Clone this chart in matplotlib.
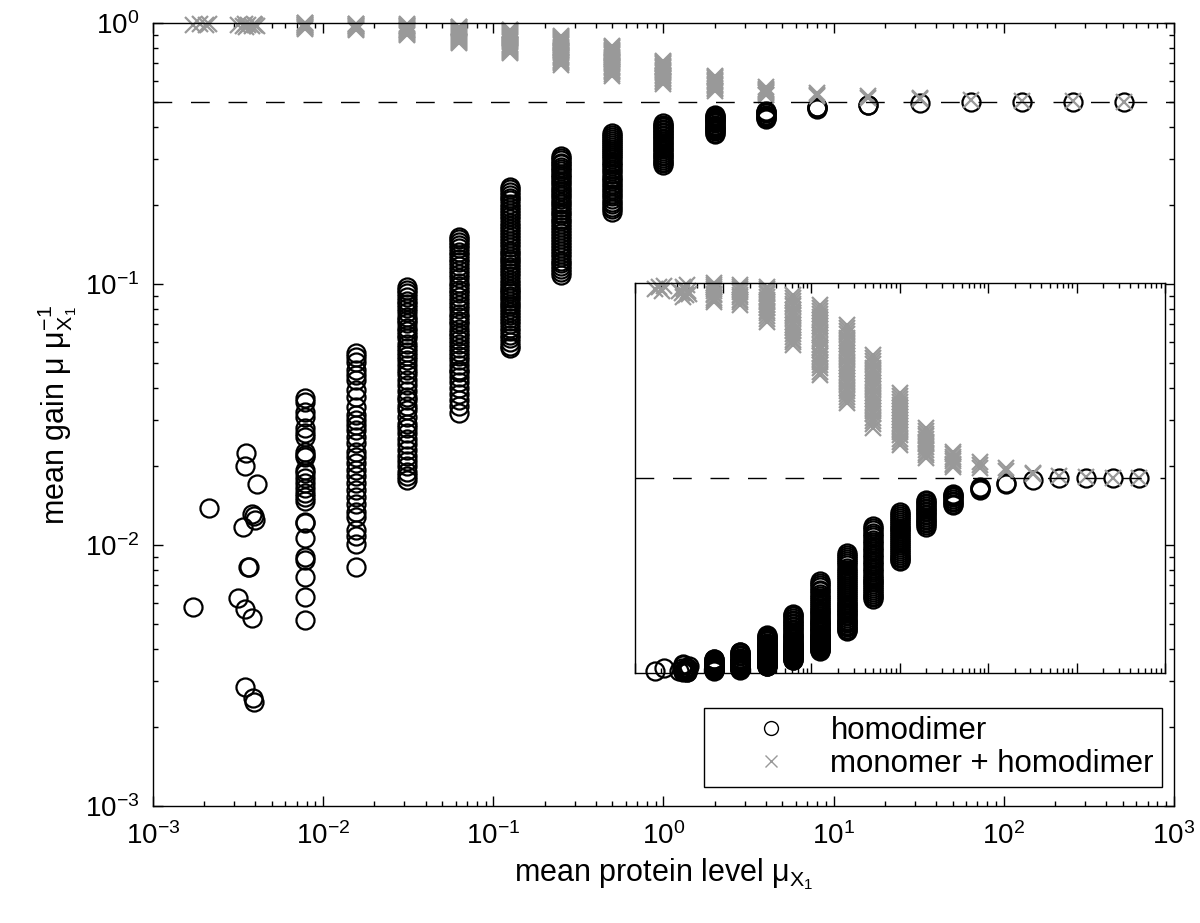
import matplotlib
matplotlib.use('Agg')
import matplotlib.pyplot as plt
from matplotlib.lines import Line2D
from matplotlib.ticker import LogLocator, NullFormatter, LogFormatterMathtext

plt.rcParams['font.family'] = ['Liberation Sans', 'DejaVu Sans']
plt.rcParams['mathtext.fontset'] = 'custom'
plt.rcParams['mathtext.rm'] = 'Liberation Sans'
plt.rcParams['mathtext.it'] = 'Liberation Sans'
plt.rcParams['mathtext.bf'] = 'Liberation Sans:bold'

# ---- homodimer (circles) ----
# scattered points at the lowest protein levels
low_x = [0.00353, 0.00348, 0.00411, 0.00214, 0.00390, 0.00381, 0.00399, 0.00340, 0.00364,
         0.00368, 0.00171, 0.00318, 0.00348, 0.00381, 0.00348, 0.00386, 0.00393]
low_y = [0.0226, 0.0201, 0.0171, 0.0139, 0.0129, 0.0132, 0.0125, 0.0117, 0.00826,
         0.0082, 0.0058, 0.00625, 0.0057, 0.00524, 0.00286, 0.00259, 0.00251]

col_x = [1/128, 1/64, 1/32, 1/16, 1/8, 1/4, 1/2, 1, 2, 4, 8, 16, 32, 64, 128, 256, 512]

homo_c1 = [0.0365, 0.0354, 0.0324, 0.031, 0.028, 0.0268, 0.026, 0.0228, 0.0221, 0.0218, 0.0194,
           0.0188, 0.018, 0.0172, 0.0165, 0.0158, 0.0153, 0.0147, 0.0123, 0.0121, 0.0106, 0.009,
           0.00877, 0.00757, 0.00634, 0.00516]
homo_c2 = [0.0543, 0.0527, 0.0504, 0.0468, 0.0448, 0.0429, 0.0392, 0.037, 0.0339, 0.0315, 0.0301,
           0.0288, 0.0276, 0.026, 0.0245, 0.0228, 0.0218, 0.0206, 0.0194, 0.0183, 0.0172, 0.0163,
           0.0153, 0.0144, 0.0134, 0.0128, 0.0114, 0.0108, 0.0101, 0.00826]
homo_c3 = [0.097, 0.095, 0.092, 0.089, 0.086, 0.084, 0.081, 0.078, 0.075, 0.073, 0.071, 0.068,
           0.066, 0.064, 0.062, 0.059, 0.057, 0.055, 0.053, 0.051, 0.049, 0.047, 0.045, 0.043,
           0.041, 0.039, 0.037, 0.036, 0.034, 0.033, 0.031, 0.029, 0.028, 0.0268, 0.0255, 0.0244,
           0.0232, 0.022, 0.021, 0.02, 0.019, 0.0183, 0.0178]
homo_c4 = [0.152, 0.149, 0.145, 0.141, 0.137, 0.133, 0.129, 0.125, 0.121, 0.117, 0.113, 0.109,
           0.105, 0.101, 0.098, 0.095, 0.092, 0.089, 0.086, 0.083, 0.08, 0.077, 0.075, 0.072,
           0.07, 0.067, 0.065, 0.063, 0.061, 0.059, 0.057, 0.055, 0.053, 0.051, 0.049, 0.047,
           0.046, 0.044, 0.042, 0.04, 0.038, 0.036, 0.034, 0.032]
homo_c5 = [0.236, 0.231, 0.226, 0.22, 0.214, 0.209, 0.203, 0.198, 0.192, 0.187, 0.182, 0.177,
           0.172, 0.167, 0.162, 0.158, 0.154, 0.15, 0.146, 0.142, 0.138, 0.134, 0.131, 0.128,
           0.125, 0.122, 0.119, 0.116, 0.113, 0.11, 0.107, 0.104, 0.101, 0.098, 0.096, 0.094,
           0.092, 0.09, 0.088, 0.086, 0.084, 0.082, 0.08, 0.078, 0.076, 0.074, 0.072, 0.07,
           0.068, 0.066, 0.064, 0.062, 0.06, 0.058, 0.057]
homo_c6 = [0.308, 0.303, 0.298, 0.292, 0.287, 0.281, 0.276, 0.27, 0.265, 0.259, 0.254, 0.248,
           0.243, 0.238, 0.232, 0.227, 0.222, 0.217, 0.212, 0.207, 0.202, 0.197, 0.192, 0.187,
           0.183, 0.178, 0.174, 0.169, 0.165, 0.161, 0.157, 0.153, 0.149, 0.145, 0.141, 0.137,
           0.134, 0.13, 0.127, 0.123, 0.12, 0.117, 0.114, 0.111, 0.108]
homo_c7 = [0.378, 0.372, 0.366, 0.36, 0.354, 0.348, 0.342, 0.336, 0.33, 0.324, 0.318, 0.312,
           0.306, 0.3, 0.294, 0.288, 0.282, 0.276, 0.27, 0.264, 0.258, 0.252, 0.247, 0.242,
           0.237, 0.232, 0.227, 0.222, 0.217, 0.212, 0.207, 0.202, 0.198, 0.194, 0.189]
homo_c8 = [0.413, 0.408, 0.403, 0.398, 0.393, 0.388, 0.383, 0.378, 0.373, 0.368, 0.363, 0.358,
           0.353, 0.348, 0.343, 0.338, 0.333, 0.328, 0.323, 0.318, 0.313, 0.308, 0.303, 0.298,
           0.294, 0.29, 0.286]
homo_c9 = [0.444, 0.44, 0.436, 0.432, 0.428, 0.424, 0.42, 0.416, 0.412, 0.408, 0.404, 0.4,
           0.396, 0.392, 0.388, 0.384, 0.38, 0.375]
homo_c10 = [0.46, 0.457, 0.454, 0.45, 0.446, 0.442, 0.438, 0.434, 0.43]
homo_c11 = [0.478, 0.475, 0.472, 0.468]
homo_c12 = [0.487, 0.484]
homo_c13 = [0.495]
homo_c14 = [0.499]
homo_c15 = [0.5]
homo_c16 = [0.5]
homo_c17 = [0.5]
homo_cols = [homo_c1, homo_c2, homo_c3, homo_c4, homo_c5, homo_c6, homo_c7, homo_c8, homo_c9,
             homo_c10, homo_c11, homo_c12, homo_c13, homo_c14, homo_c15, homo_c16, homo_c17]

# ---- monomer + homodimer (grey crosses) ----
mono_low_x = [0.00171, 0.00190, 0.00205, 0.00214, 0.00318, 0.00340, 0.00348, 0.00353, 0.00364,
              0.00381, 0.00390, 0.00399, 0.00411]
mono_low_y = [0.985, 0.99, 0.98, 0.992, 0.98, 0.975, 0.99, 0.965, 0.985, 0.97, 0.995, 0.98, 0.972]

mono_c1 = [1.0, 0.996, 0.99, 0.984, 0.979, 0.973, 0.968, 0.962, 0.957, 0.951]
mono_c2 = [0.995, 0.99, 0.984, 0.977, 0.97, 0.964, 0.957, 0.95, 0.944]
mono_c3 = [0.99, 0.984, 0.977, 0.971, 0.964, 0.957, 0.95, 0.943, 0.936, 0.929, 0.922, 0.915,
           0.908, 0.9]
mono_c4 = [0.969, 0.962, 0.955, 0.947, 0.94, 0.932, 0.924, 0.917, 0.909, 0.901, 0.893, 0.885,
           0.877, 0.87, 0.862, 0.855, 0.848, 0.841]
mono_c5 = [0.944, 0.936, 0.929, 0.921, 0.913, 0.905, 0.897, 0.889, 0.881, 0.873, 0.866, 0.858,
           0.85, 0.842, 0.834, 0.827, 0.819, 0.812, 0.804, 0.797, 0.789, 0.781, 0.772, 0.764]
mono_c6 = [0.892, 0.884, 0.876, 0.868, 0.86, 0.852, 0.844, 0.836, 0.828, 0.82, 0.812, 0.804,
           0.796, 0.788, 0.78, 0.772, 0.764, 0.756, 0.748, 0.74, 0.732, 0.724, 0.716, 0.708,
           0.7, 0.692]
mono_c7 = [0.815, 0.807, 0.799, 0.791, 0.783, 0.775, 0.767, 0.759, 0.751, 0.743, 0.735, 0.727,
           0.719, 0.711, 0.703, 0.695, 0.687, 0.679, 0.671, 0.663, 0.655, 0.647, 0.639, 0.628]
mono_c8 = [0.718, 0.71, 0.702, 0.694, 0.687, 0.679, 0.671, 0.663, 0.656, 0.648, 0.641, 0.633,
           0.625, 0.617, 0.609, 0.601, 0.593, 0.585]
mono_c9 = [0.628, 0.621, 0.614, 0.607, 0.6, 0.593, 0.586, 0.579, 0.572, 0.565, 0.558, 0.551]
mono_c10 = [0.567, 0.561, 0.555, 0.549, 0.543, 0.537, 0.532, 0.528]
mono_c11 = [0.54, 0.532, 0.525]
mono_c12 = [0.525, 0.518]
mono_c13 = [0.514, 0.51]
mono_c14 = [0.505]
mono_c15 = [0.503]
mono_c16 = [0.501]
mono_c17 = [0.5]
mono_cols = [mono_c1, mono_c2, mono_c3, mono_c4, mono_c5, mono_c6, mono_c7, mono_c8, mono_c9,
             mono_c10, mono_c11, mono_c12, mono_c13, mono_c14, mono_c15, mono_c16, mono_c17]

limit_gain = 0.5


def flatten(cols):
    xs, ys = [], []
    for xv, col in zip(col_x, cols):
        xs += [xv] * len(col)
        ys += col
    return xs, ys


hx, hy = flatten(homo_cols)
hx = low_x + hx
hy = low_y + hy
mx, my = flatten(mono_cols)
mx = mono_low_x + mx
my = mono_low_y + my

grey = '#999999'
circ = dict(marker='o', mfc='none', mec='k', ms=13, mew=1.6, ls='none', clip_on=False)
cross = dict(marker='x', color=grey, ms=11, mew=1.6, ls='none', clip_on=False)

fig = plt.figure(figsize=(12, 9.23), dpi=100)
ax = fig.add_axes([0.1275, 0.1268, 0.8508, 0.8483])

ax.plot(hx, hy, **circ)
ax.plot(mx, my, **cross)
ax.axhline(limit_gain, color='k', lw=1.0, dashes=(13.5, 13.5))

ax.set_xscale('log')
ax.set_yscale('log')
ax.set_xlim(1e-3, 1e3)
ax.set_ylim(1e-3, 1e0)
for a in (ax.xaxis, ax.yaxis):
    a.set_major_locator(LogLocator(base=10, numticks=20))
    a.set_minor_locator(LogLocator(base=10, subs=range(2, 10), numticks=20))
    a.set_minor_formatter(NullFormatter())
    a.set_major_formatter(LogFormatterMathtext())
ax.tick_params(which='both', direction='in', top=True, right=True, width=1.0, labelsize=20)
ax.tick_params(which='major', length=7)
ax.tick_params(which='minor', length=3.5)
ax.tick_params(axis='x', which='major', pad=12)
ax.tick_params(axis='y', which='major', pad=10)
for s in ax.spines.values():
    s.set_linewidth(1.0)

ax.set_xlabel('mean protein level μ$_{X_1}$', fontsize=22)
ax.set_ylabel('mean gain μ μ$_{X_1}^{-1}$', fontsize=22)

leg_handles = [Line2D([], [], marker='o', mfc='none', mec='k', ms=10, mew=1.0, ls='none'),
               Line2D([], [], marker='x', color=grey, ms=9, mew=1.0, ls='none')]
leg = ax.legend(leg_handles, ['homodimer', 'monomer + homodimer'], loc='lower right',
                bbox_to_anchor=(0.988, 0.024), fontsize=22.5, frameon=True, fancybox=False,
                framealpha=1, edgecolor='k', borderpad=0.25, handlelength=3.8,
                handletextpad=0.0, labelspacing=0.1, borderaxespad=0)
leg.get_frame().set_linewidth(1.0)

# inset: same data, linear gain axis
ax_in = fig.add_axes([0.529, 0.2709, 0.4417, 0.4225])
ax_in.plot(hx, hy, **circ)
ax_in.plot(mx, my, **cross)
ax_in.axhline(limit_gain, color='k', lw=1.0, dashes=(13.5, 13.5))
ax_in.set_xscale('log')
ax_in.set_xlim(1e-3, 1e3)
ax_in.set_ylim(0, 1)
ax_in.xaxis.set_major_locator(LogLocator(base=10, numticks=20))
ax_in.xaxis.set_minor_locator(LogLocator(base=10, subs=range(2, 10), numticks=20))
ax_in.xaxis.set_major_formatter(NullFormatter())
ax_in.xaxis.set_minor_formatter(NullFormatter())
ax_in.set_yticks([])
ax_in.tick_params(which='both', direction='in', top=True, bottom=True, width=1.0)
ax_in.tick_params(which='major', length=7)
ax_in.tick_params(which='minor', length=3.5)
for s in ax_in.spines.values():
    s.set_linewidth(1.0)

fig.savefig('out.png', dpi=100)
